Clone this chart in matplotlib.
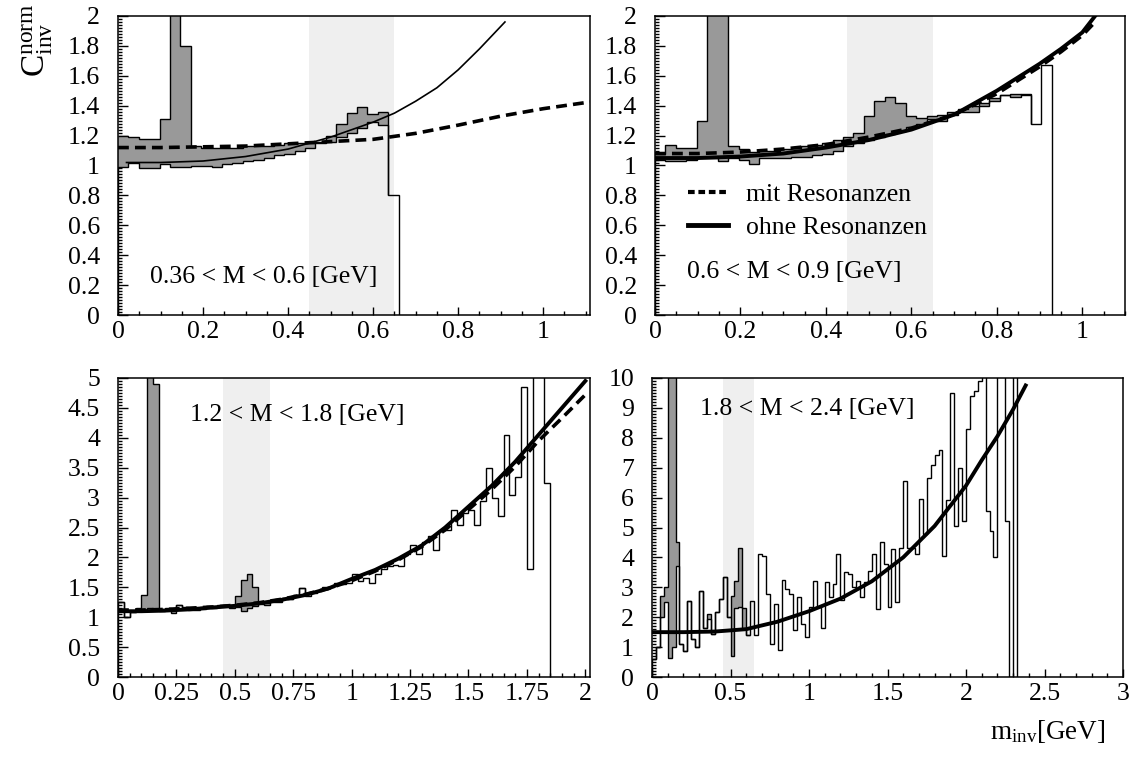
import numpy as np
import matplotlib
matplotlib.use('Agg')
import matplotlib.pyplot as plt
from matplotlib.lines import Line2D
from matplotlib.ticker import MultipleLocator, FuncFormatter

plt.rcParams['font.family'] = ['Liberation Serif', 'DejaVu Serif']
plt.rcParams['mathtext.fontset'] = 'custom'
plt.rcParams['mathtext.rm'] = 'Liberation Serif'
plt.rcParams['mathtext.it'] = 'Liberation Serif:italic'
plt.rcParams['font.size'] = 18.5

# ---- data ----
BAND = (0.45, 0.65)          # shaded m_inv window
TOP_BIN = 1.1 / 45           # bin width, upper panels
BOT_BIN = 0.025              # bin width, lower panels

# 0.36 < M < 0.6
TL_MIT = [1.20, 1.19, 1.18, 1.18, 1.31, 3.00, 1.80, 1.13, 1.12, 1.12, 1.12, 1.12, 1.13,
          1.13, 1.13, 1.14, 1.15, 1.15, 1.15, 1.16, 1.20, 1.28, 1.35, 1.39, 1.345, 1.36]
TL_OHNE = [0.99, 1.02, 0.98, 0.98, 1.01, 0.99, 0.99, 1.00, 1.00, 0.99, 1.01, 1.02, 1.03,
           1.04, 1.05, 1.07, 1.08, 1.10, 1.12, 1.15, 1.16, 1.19, 1.22, 1.25, 1.29, 1.27, 0.80]
TL_FIT_MIT_X = [0, 0.1, 0.2, 0.3, 0.4, 0.5, 0.6, 0.7, 0.8, 0.9, 1.0, 1.11]
TL_FIT_MIT_Y = [1.12, 1.12, 1.125, 1.13, 1.145, 1.16, 1.175, 1.215, 1.27, 1.33, 1.38, 1.425]
TL_FIT_OHNE_X = [0.02, 0.1, 0.2, 0.3, 0.4, 0.45, 0.5, 0.55, 0.6, 0.65, 0.7, 0.75, 0.8, 0.85, 0.9, 0.91]
TL_FIT_OHNE_Y = [1.02, 1.02, 1.03, 1.06, 1.11, 1.15, 1.19, 1.24, 1.29, 1.35, 1.43, 1.52, 1.64, 1.78, 1.93, 1.96]

# 0.6 < M < 0.9
TR_MIT = [1.08, 1.14, 1.12, 1.12, 1.30, 3.00, 3.00, 1.13, 1.11, 1.09, 1.10, 1.10, 1.11, 1.12,
          1.13, 1.14, 1.15, 1.17, 1.19, 1.22, 1.33, 1.43, 1.46, 1.42, 1.33, 1.32, 1.33, 1.34,
          1.36, 1.38, 1.40, 1.42, 1.45, 1.47, 1.48, 1.47]
TR_OHNE = [1.04, 1.03, 1.03, 1.04, 1.05, 1.05, 1.03, 1.05, 1.04, 1.01, 1.05, 1.05, 1.05, 1.06,
           1.06, 1.07, 1.08, 1.10, 1.13, 1.15, 1.17, 1.19, 1.21, 1.23, 1.26, 1.28, 1.31, 1.30,
           1.34, 1.36, 1.36, 1.40, 1.43, 1.47, 1.46, 1.48, 1.28, 1.67]
TR_FIT_X = [0, 0.1, 0.2, 0.3, 0.4, 0.5, 0.6, 0.7, 0.8, 0.9, 0.95, 1.0, 1.03]
TR_FIT_MIT_Y = [1.08, 1.08, 1.09, 1.11, 1.14, 1.19, 1.25, 1.34, 1.48, 1.66, 1.76, 1.87, 1.96]
TR_FIT_OHNE_Y = [1.05, 1.05, 1.06, 1.08, 1.12, 1.17, 1.24, 1.34, 1.50, 1.68, 1.78, 1.89, 2.00]

# 1.2 < M < 1.8
BL_MIT = [1.25, 1.00, 1.08, 1.15, 1.37, 5.50, 4.90, 1.13, 1.15, 1.12, 1.20, 1.17, 1.15, 1.16,
          1.17, 1.19, 1.18, 1.20, 1.21, 1.19, 1.35, 1.62, 1.72, 1.50, 1.24, 1.23, 1.27, 1.27,
          1.32, 1.31, 1.37, 1.48]
BL_OHNE = [1.25, 1.00, 1.08, 1.12, 1.12, 1.15, 1.12, 1.10, 1.14, 1.07, 1.20, 1.15, 1.12, 1.12,
           1.13, 1.18, 1.15, 1.18, 1.20, 1.15, 1.17, 1.10, 1.16, 1.18, 1.22, 1.21, 1.26, 1.25,
           1.32, 1.30, 1.37, 1.48, 1.36, 1.40, 1.43, 1.50, 1.50, 1.57, 1.56, 1.58, 1.72, 1.60,
           1.66, 1.58, 1.72, 1.80, 1.85, 1.88, 1.86, 2.05, 2.20, 2.05, 2.25, 2.35, 2.12, 2.45,
           2.45, 2.80, 2.55, 2.75, 2.80, 2.55, 2.95, 3.50, 3.00, 2.70, 4.05, 3.05, 3.35, 4.85,
           1.80, 5.50, 5.50, 3.25]
BL_FIT_X = [0, 0.1, 0.2, 0.3, 0.4, 0.5, 0.6, 0.7, 0.8, 0.9, 1.0, 1.1, 1.2, 1.3, 1.4, 1.5,
            1.6, 1.7, 1.8, 1.9, 2.0]
BL_FIT_MIT_Y = [1.12, 1.12, 1.13, 1.15, 1.17, 1.20, 1.24, 1.30, 1.38, 1.48, 1.61, 1.77, 1.96,
                2.18, 2.46, 2.80, 3.14, 3.52, 3.95, 4.33, 4.72]
BL_FIT_OHNE_Y = [1.10, 1.10, 1.11, 1.13, 1.16, 1.19, 1.23, 1.29, 1.37, 1.48, 1.64, 1.79, 1.98,
                 2.20, 2.50, 2.85, 3.20, 3.60, 4.05, 4.50, 4.95]

# 1.8 < M < 2.4
BR_MIT = [0.6, 1.0, 2.7, 3.0, 12, 12, 4.5, 1.1, 0.87, 2.53, 1.28, 1.02, 2.87, 1.64, 2.1,
          1.44, 2.17, 2.61, 3.33, 2.02, 2.7, 3.2, 4.3, 2.3, 1.4]
BR_OHNE = [0.6, 1.0, 2.0, 2.5, 0.65, 1.0, 3.7, 1.1, 0.87, 2.53, 1.28, 1.02, 2.87, 1.64, 1.94,
           1.44, 2.17, 2.61, 3.33, 2.02, 0.7, 2.3, 2.33, 1.6, 1.4, 2.53, 1.4, 4.1, 4.05, 2.78,
           1.1, 2.44, 0.89, 3.24, 2.94, 2.78, 1.56, 2.67, 1.78, 1.33, 2.33, 3.22, 2.33, 1.64,
           3.17, 2.69, 3.1, 4.1, 2.58, 3.5, 3.44, 3.0, 3.22, 2.67, 3.17, 3.56, 4.11, 2.28, 4.53,
           3.78, 2.33, 4.28, 2.5, 4.33, 6.56, 4.33, 4.33, 4.13, 5.94, 4.78, 6.67, 7.09, 7.42,
           7.58, 4.06, 5.91, 9.5, 5.06, 7.0, 5.22, 8.28, 9.39, 9.56, 9.9, 11, 5.56, 4.87, 4.0,
           11, 11, 5.22, 0, 11]
BR_FIT_X = [0, 0.2, 0.4, 0.6, 0.8, 1.0, 1.2, 1.4, 1.6, 1.8, 2.0, 2.1, 2.2, 2.3, 2.38]
BR_FIT_OHNE_Y = [1.5, 1.5, 1.52, 1.6, 1.85, 2.2, 2.62, 3.2, 4.0, 5.05, 6.4, 7.25, 8.05, 8.95, 9.75]

W, H = 1137, 757
GREY = '#999999'
BAND_COLOR = '#efefef'
DASH = (3.0, 1.7)


def box(l, t, r, b):
    return [l / W, 1 - b / H, (r - l) / W, (b - t) / H]


def setup(ax, xlim, ylim, xmaj, xmin, ymaj, ymin):
    ax.set_xlim(*xlim)
    ax.set_ylim(*ylim)
    ax.xaxis.set_major_locator(MultipleLocator(xmaj))
    ax.xaxis.set_minor_locator(MultipleLocator(xmin))
    ax.yaxis.set_major_locator(MultipleLocator(ymaj))
    ax.yaxis.set_minor_locator(MultipleLocator(ymin))
    fmt = FuncFormatter(lambda v, p: '%g' % round(v, 4))
    ax.xaxis.set_major_formatter(fmt)
    ax.yaxis.set_major_formatter(fmt)
    ax.tick_params(which='both', direction='in', top=False, right=False, width=1.0)
    ax.tick_params(axis='x', which='major', length=5.5, pad=4)
    ax.tick_params(axis='x', which='minor', length=2.8)
    ax.tick_params(axis='y', which='major', length=7.5, pad=13)
    ax.tick_params(axis='y', which='minor', length=3.2)
    for s in ax.spines.values():
        s.set_linewidth(1.1)
    ax.axvspan(*BAND, color=BAND_COLOR, lw=0, zorder=0)


def hists(ax, width, mit, ohne):
    mit = np.asarray(mit, float)
    ohne = np.asarray(ohne, float)
    n = len(mit)
    e_mit = np.arange(n + 1) * width
    e_ohne = np.arange(len(ohne) + 1) * width
    ax.bar(e_mit[:-1], np.clip(mit - ohne[:n], 0, None), bottom=ohne[:n], width=width,
           align='edge', color=GREY, lw=0, zorder=2)
    ax.stairs(ohne, e_ohne, baseline=0, color='k', lw=1.0, zorder=3)
    ax.stairs(mit, e_mit, baseline=None, color='k', lw=1.0, zorder=3)
    if n < len(ohne):
        ax.vlines(e_mit[-1], min(ohne[n - 1], ohne[n]), mit[-1], color='k', lw=1.0, zorder=3)


fig = plt.figure(figsize=(W / 100, H / 100), dpi=100)

# top left
ax = fig.add_axes(box(118, 16, 590, 315))
setup(ax, (0, 1.11), (0, 2), 0.2, 0.05, 0.2, 0.02)
hists(ax, TOP_BIN, TL_MIT, TL_OHNE)
ax.plot(TL_FIT_OHNE_X, TL_FIT_OHNE_Y, color='k', lw=1.2, zorder=4)
ax.plot(TL_FIT_MIT_X, TL_FIT_MIT_Y, color='k', lw=2.6, dashes=DASH, zorder=4)
ax.text(0.067, 0.128, '0.36 < M < 0.6 [GeV]', transform=ax.transAxes, va='center')

# top right
ax = fig.add_axes(box(655, 16, 1125, 315))
setup(ax, (0, 1.1), (0, 2), 0.2, 0.05, 0.2, 0.02)
hists(ax, TOP_BIN, TR_MIT, TR_OHNE)
ax.plot(TR_FIT_X, TR_FIT_OHNE_Y, color='k', lw=2.8, zorder=4)
ax.plot(TR_FIT_X, TR_FIT_MIT_Y, color='k', lw=2.6, dashes=DASH, zorder=4)
ax.text(0.068, 0.144, '0.6 < M < 0.9 [GeV]', transform=ax.transAxes, va='center')
handles = [Line2D([], [], color='k', lw=3.0, dashes=(1.6, 0.9)),
           Line2D([], [], color='k', lw=3.5)]
ax.legend(handles, ['mit Resonanzen', 'ohne Resonanzen'], loc='center left',
          bbox_to_anchor=(0.07, 0.348), frameon=False, borderpad=0, borderaxespad=0,
          handlelength=1.56, handletextpad=0.72, labelspacing=0.38, fontsize=18.5)

# bottom left
ax = fig.add_axes(box(118, 378, 590, 677))
setup(ax, (0, 2.02), (0, 5), 0.25, 0.05, 0.5, 0.05)
hists(ax, BOT_BIN, BL_MIT, BL_OHNE)
ax.plot(BL_FIT_X, BL_FIT_OHNE_Y, color='k', lw=2.8, zorder=4)
ax.plot(BL_FIT_X, BL_FIT_MIT_Y, color='k', lw=2.6, dashes=DASH, zorder=4)
ax.text(0.153, 0.876, '1.2 < M < 1.8 [GeV]', transform=ax.transAxes, va='center')

# bottom right
ax = fig.add_axes(box(652, 378, 1123, 677))
setup(ax, (0, 3), (0, 10), 0.5, 0.1, 1, 0.1)
hists(ax, BOT_BIN, BR_MIT, BR_OHNE)
ax.plot(BR_FIT_X, BR_FIT_OHNE_Y, color='k', lw=2.8, zorder=4)
ax.text(0.101, 0.896, '1.8 < M < 2.4 [GeV]', transform=ax.transAxes, va='center')

fig.text(38 / W, 1 - 3 / H, r'$\mathrm{C^{norm}_{inv}}$', rotation=90,
         ha='center', va='top', fontsize=24)
fig.text(1105 / W, 1 - 739 / H, r'$\mathrm{m_{inv}}$[GeV]', ha='right', va='baseline',
         fontsize=19.5)

fig.savefig('out.png', dpi=100)
